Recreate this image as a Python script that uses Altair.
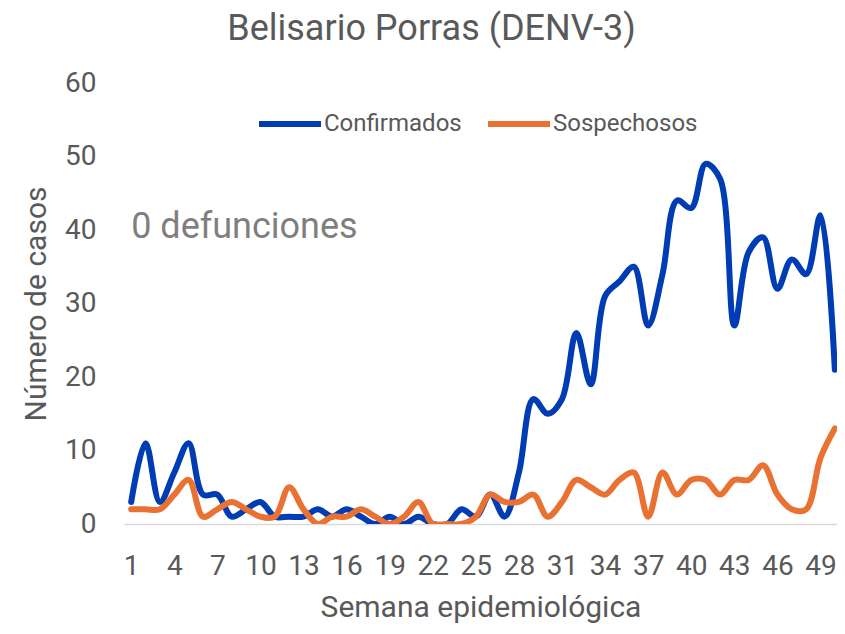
import altair as alt
import pandas as pd

weeks = list(range(1, 51))
confirmados = [3, 11, 3, 7, 11, 4, 4, 1, 2, 3,
               1, 1, 1, 2, 1, 2, 1, 0, 1, 0,
               1, 0, 0, 2, 1, 4, 1, 7, 17, 15,
               17, 26, 19, 31, 33, 35, 27, 34, 44, 43,
               49, 47, 27, 37, 39, 32, 36, 34, 42, 21]
sospechosos = [2, 2, 2, 4, 6, 1, 2, 3, 2, 1,
               1, 5, 2, 0, 1, 1, 2, 1, 0, 1,
               3, 0, 0, 0, 1, 4, 3, 3, 4, 1,
               3, 6, 5, 4, 6, 7, 1, 7, 4, 6,
               6, 4, 6, 6, 8, 4, 2, 2, 9, 13]
series_names = ["Confirmados", "Sospechosos"]
series_colors = ["#003CB4", "#E97132"]
x_ticks = list(range(1, 50, 3))
y_ticks = [0, 10, 20, 30, 40, 50, 60]
annotation = "0 defunciones"
annot_week = [1]
annot_value = [40.4]

df = pd.concat([
    pd.DataFrame({"Semana": weeks, "Casos": confirmados, "Serie": series_names[0], "ord": 0}),
    pd.DataFrame({"Semana": weeks, "Casos": sospechosos, "Serie": series_names[1], "ord": 1}),
])

FONT = "Roboto"
GRAY = "#595959"

x_enc = alt.X("Semana:Q",
              scale=alt.Scale(domain=[0.5, 50.15], nice=False, zero=False),
              axis=alt.Axis(values=x_ticks, grid=False, ticks=False, domain=True,
                            domainColor="#D9D9D9", domainWidth=1.5,
                            labelFontSize=28, labelFont=FONT, labelColor=GRAY,
                            labelPadding=28, labelFlush=False, labelOverlap=False,
                            title="Semana epidemiológica", titleFontSize=30,
                            titleFont=FONT, titleColor=GRAY, titleFontWeight="normal",
                            titlePadding=12))
y_enc = alt.Y("Casos:Q",
              scale=alt.Scale(domain=[0, 60], nice=False),
              axis=alt.Axis(values=y_ticks, grid=False, ticks=False, domain=False,
                            labelFontSize=28, labelFont=FONT, labelColor=GRAY,
                            labelPadding=28,
                            title="Número de casos", titleFontSize=30,
                            titleFont=FONT, titleColor=GRAY, titleFontWeight="normal",
                            titlePadding=13))

lines = alt.Chart(df).mark_line(
    interpolate="catmull-rom", strokeWidth=6, strokeCap="round",
    strokeJoin="round", clip=True
).encode(
    x=x_enc,
    y=y_enc,
    color=alt.Color("Serie:N",
                    scale=alt.Scale(domain=series_names, range=series_colors),
                    legend=alt.Legend(title=None, orient="none", direction="horizontal",
                                      legendX=132, legendY=7,
                                      symbolType="stroke", symbolSize=3844,
                                      symbolStrokeWidth=6, labelFontSize=24,
                                      labelFont=FONT, labelColor=GRAY,
                                      labelOffset=0, columnPadding=14)),
    order=alt.Order("ord:Q"),
    detail="Serie:N",
)

text = alt.Chart(pd.DataFrame({"Semana": annot_week, "Casos": annot_value,
                               "t": [annotation]})).mark_text(
    align="left", baseline="middle", fontSize=36, font=FONT, color="#7F7F7F"
).encode(x="Semana:Q", y="Casos:Q", text="t:N")

chart = alt.layer(lines, text).properties(
    width=713, height=441,
    title=alt.TitleParams("Belisario Porras (DENV-3)", fontSize=36, font=FONT,
                          color=GRAY, fontWeight="normal", anchor="middle",
                          dx=-49, offset=21),
    autosize=alt.AutoSizeParams(type="none"),
    padding={"left": 116, "top": 75, "right": 0, "bottom": 101},
).configure_view(strokeWidth=0)

chart.save("out.html", embed_options={"renderer": "svg", "actions": False})
